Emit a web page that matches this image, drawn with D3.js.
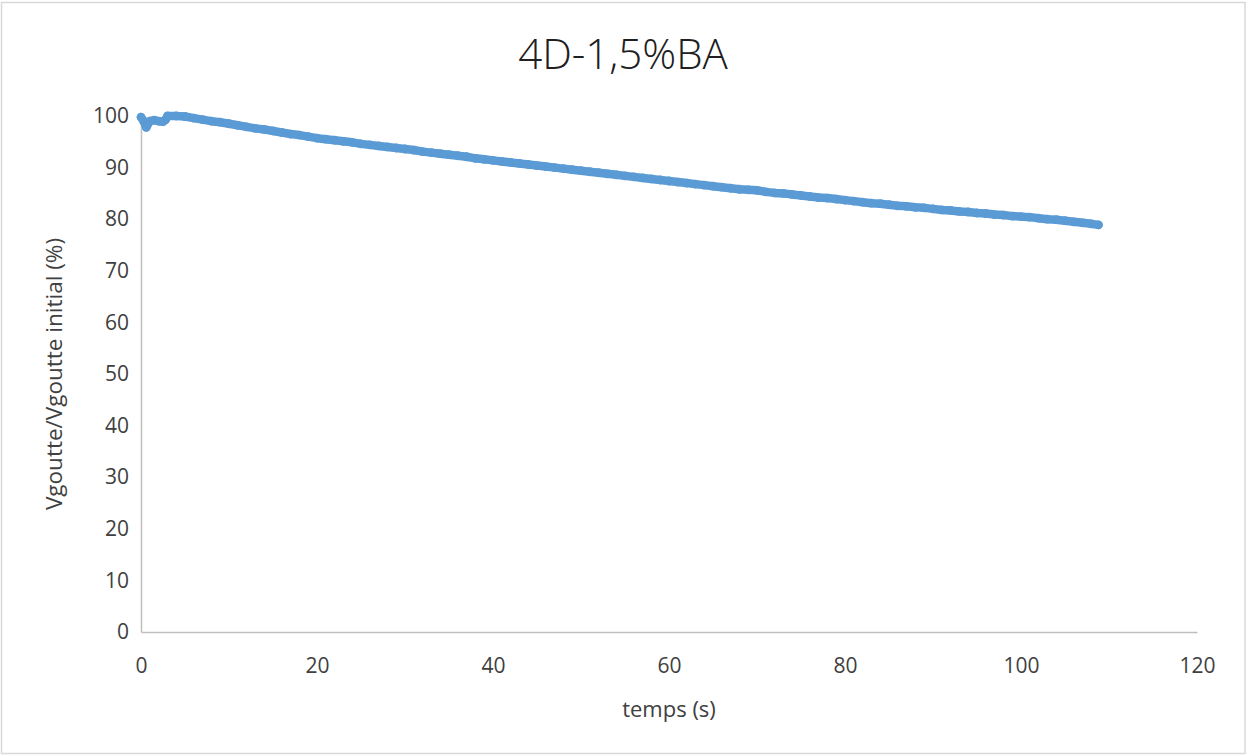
<!DOCTYPE html>
<html><head><meta charset="utf-8">
<script src="https://cdn.jsdelivr.net/npm/d3@7"></script>
<style>
html,body{margin:0;padding:0;background:#fff;}
svg text{font-family:"Open Sans","Noto Sans",sans-serif;fill:#404040;}
</style></head>
<body><svg id="chart" width="1247" height="755"></svg>
<script>
const title = "4D-1,5%BA";
const xLabel = "temps (s)";
const yLabel = "Vgoutte/Vgoutte initial (%)";
const xTicks = [0, 20, 40, 60, 80, 100, 120];
const yTicks = [0, 10, 20, 30, 40, 50, 60, 70, 80, 90, 100];

const times = [0, 0.3, 0.6, 1, 1.5, 2, 2.5, 2.8, 3, 4, 5, 6, 7, 8, 9, 10, 11, 12, 13, 14, 15, 16, 17, 18, 19, 20,
  21, 22, 23, 24, 25, 26, 27, 28, 29, 30, 31, 32, 33, 34, 35, 36, 37, 38, 39, 40,
  41, 42, 43, 44, 45, 46, 47, 48, 49, 50, 51, 52, 53, 54, 55, 56, 57, 58, 59, 60,
  61, 62, 63, 64, 65, 66, 67, 68, 69, 70, 71, 72, 73, 74, 75, 76, 77, 78, 79, 80,
  81, 82, 83, 84, 85, 86, 87, 88, 89, 90, 91, 92, 93, 94, 95, 96, 97, 98, 99, 100,
  101, 102, 103, 104, 105, 106, 107, 108, 108.8];
const volumes = [99.8, 99.0, 97.8, 99.0, 99.2, 99.0, 98.9, 99.3, 100.0, 100.0, 99.9, 99.6, 99.3, 99.0, 98.8, 98.5, 98.2, 97.9, 97.6, 97.4, 97.1, 96.8, 96.5, 96.3, 96.0, 95.7,
  95.5, 95.3, 95.1, 94.9, 94.6, 94.4, 94.2, 94.0, 93.8, 93.6, 93.4, 93.1, 92.9, 92.7, 92.5, 92.3, 92.1, 91.8, 91.6, 91.4,
  91.2, 91.0, 90.8, 90.6, 90.4, 90.2, 90.0, 89.8, 89.6, 89.4, 89.2, 89.0, 88.8, 88.6, 88.4, 88.2, 88.0, 87.8, 87.6, 87.4,
  87.2, 87.0, 86.8, 86.6, 86.4, 86.2, 86.0, 85.8, 85.7, 85.6, 85.3, 85.1, 85.0, 84.8, 84.6, 84.4, 84.2, 84.1, 83.9, 83.7,
  83.5, 83.3, 83.1, 83.0, 82.8, 82.6, 82.5, 82.3, 82.2, 82.0, 81.8, 81.7, 81.5, 81.4, 81.2, 81.1, 80.9, 80.8, 80.6, 80.5,
  80.4, 80.2, 80.0, 79.9, 79.7, 79.5, 79.3, 79.1, 78.9];

const data = times.map((t, i) => ({t, v: volumes[i]}));

const svg = d3.select("#chart");
const W = 1247, H = 755;
const m = {left: 141, right: 1197, top: 116, bottom: 632};

svg.append("rect").attr("x", 1.5).attr("y", 2.5).attr("width", W - 3.5).attr("height", H - 4)
  .attr("fill", "#fff").attr("stroke", "#d9d9d9").attr("stroke-width", 1.5);

const x = d3.scaleLinear().domain([0, 120]).range([m.left, m.right]);
const y = d3.scaleLinear().domain([0, 100]).range([m.bottom, m.top]);

const xAxis = svg.append("g").attr("transform", `translate(0,${m.bottom})`)
  .call(d3.axisBottom(x).tickValues(xTicks).tickSize(0).tickPadding(26).tickFormat(d3.format("d")));
xAxis.select(".domain").attr("stroke", "#bfbfbf").attr("stroke-width", 1.5);
xAxis.selectAll("text").attr("font-size", 21).style("fill", "#404040");

const yAxis = svg.append("g").attr("transform", `translate(${m.left},0)`)
  .call(d3.axisLeft(y).tickValues(yTicks).tickSize(0).tickPadding(12).tickFormat(d3.format("d")));
yAxis.select(".domain").attr("stroke", "#bfbfbf").attr("stroke-width", 1.5);
yAxis.selectAll("text").attr("font-size", 21).style("fill", "#404040");

svg.append("text").attr("x", 623).attr("y", 69).attr("text-anchor", "middle")
  .attr("font-size", 42).attr("font-weight", 300).style("fill", "#202020").text(title);

svg.append("text").attr("x", 669).attr("y", 717).attr("text-anchor", "middle")
  .attr("font-size", 22).text(xLabel);

svg.append("text").attr("transform", "translate(62,374) rotate(-90)").attr("text-anchor", "middle")
  .attr("font-size", 22.5).text(yLabel);

const blue = "#5b9bd5";
svg.append("path").datum(data)
  .attr("fill", "none").attr("stroke", blue).attr("stroke-width", 8.5)
  .attr("stroke-linejoin", "round").attr("stroke-linecap", "round")
  .attr("d", d3.line().x(d => x(d.t)).y(d => y(d.v)));
svg.append("g").selectAll("circle").data(data).join("circle")
  .attr("cx", d => x(d.t)).attr("cy", d => y(d.v)).attr("r", 4.4).attr("fill", blue);
</script></body></html>
